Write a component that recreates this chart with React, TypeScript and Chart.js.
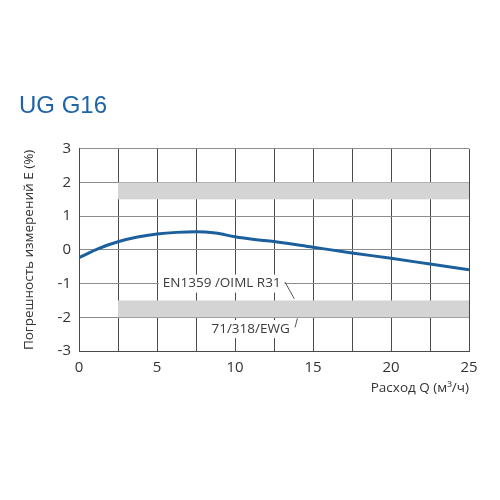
import { useEffect, useRef } from "react";
import { Chart, registerables } from "chart.js";

Chart.register(...registerables);

// Flow rate Q (m³/h) and measuring error E (%)
const flowQ = [0, 1.25, 2.5, 3.75, 5, 6.25, 7.5, 8.75, 10, 11.25, 12.5, 15, 17.5, 20, 22.5, 25];
const errorE = [-0.23, 0.04, 0.24, 0.38, 0.47, 0.52, 0.54, 0.5, 0.39, 0.31, 0.25, 0.08, -0.09, -0.25, -0.42, -0.59];

// Permitted error limits (grey bands), starting at Q = 2.5
const bandStartQ = 2.5;
const bandLow = [1.5, -2];
const bandHigh = [2, -1.5];

// Standard notes and their leader lines (data coordinates)
const noteTexts = ["EN1359 /OIML R31", "71/318/EWG"];
const noteQ = [9.15, 11.0];
const noteE = [-1, -2.35];
const leaderFrom = [[13.2, -0.95], [13.85, -2.3]];
const leaderTo = [[13.8, -1.45], [14.0, -2.03]];

const bandsPlugin = {
  id: "bands",
  beforeDatasetsDraw(chart: Chart) {
    const { ctx, chartArea, scales } = chart;
    const x = scales.x;
    const y = scales.y;
    ctx.save();
    ctx.fillStyle = "#d4d4d4";
    bandLow.forEach((lo, i) => {
      const left = x.getPixelForValue(bandStartQ);
      const top = y.getPixelForValue(bandHigh[i]);
      const bottom = y.getPixelForValue(lo);
      ctx.fillRect(left, top, chartArea.right - left, bottom - top);
    });

    ctx.font = "13.5px 'Open Sans'";
    ctx.textAlign = "center";
    ctx.textBaseline = "middle";
    noteTexts.forEach((t, i) => {
      const cx = x.getPixelForValue(noteQ[i]);
      const cy = y.getPixelForValue(noteE[i]);
      const w = ctx.measureText(t).width;
      ctx.fillStyle = "#ffffff";
      ctx.fillRect(cx - w / 2 - 4, cy - 9, w + 8, 18);
      ctx.fillStyle = "#3a3a3a";
      ctx.fillText(t, cx, cy);
    });

    ctx.strokeStyle = "#555";
    ctx.lineWidth = 1;
    leaderFrom.forEach((p, i) => {
      ctx.beginPath();
      ctx.moveTo(x.getPixelForValue(p[0]), y.getPixelForValue(p[1]));
      ctx.lineTo(x.getPixelForValue(leaderTo[i][0]), y.getPixelForValue(leaderTo[i][1]));
      ctx.stroke();
    });
    ctx.restore();
  },
};

export default function App() {
  const chartRef = useRef<HTMLCanvasElement>(null);
  const chartInstance = useRef<Chart | null>(null);

  useEffect(() => {
    if (!chartRef.current) return;
    if (chartInstance.current) chartInstance.current.destroy();

    chartInstance.current = new Chart(chartRef.current, {
      type: "line",
      data: {
        datasets: [
          {
            data: flowQ.map((q, i) => ({ x: q, y: errorE[i] })),
            borderColor: "#1b5f9d",
            borderWidth: 3,
            pointRadius: 0,
            cubicInterpolationMode: "monotone",
            fill: false,
          },
        ],
      },
      options: {
        animation: false,
        responsive: true,
        maintainAspectRatio: false,
        layout: { padding: { left: 19, right: 31, top: 0, bottom: 104 } },
        plugins: {
          legend: { display: false },
          tooltip: { enabled: false },
          title: {
            display: true,
            text: "UG G16",
            align: "start",
            color: "#1f64a6",
            font: { family: "'Liberation Sans'", size: 24, weight: "normal" },
            padding: { top: 92, bottom: 28 },
          },
        },
        scales: {
          x: {
            type: "linear",
            min: 0,
            max: 25,
            afterFit: (scale: any) => {
              scale.height = 45;
            },
            ticks: {
              stepSize: 2.5,
              padding: 8,
              color: "#333",
              font: { family: "'Open Sans'", size: 15 },
              maxRotation: 0,
              autoSkip: false,
              callback: (v: any) => (Number(v) % 5 === 0 ? String(v) : ""),
            },
            grid: { color: "#4a4a4a", drawTicks: false },
            border: { color: "#4a4a4a" },
            title: {
              display: true,
              text: "Расход Q (м³/ч)",
              align: "end",
              color: "#333",
              font: { family: "'Open Sans'", size: 13.5 },
              padding: { top: 0, bottom: 0 },
            },
          },
          y: {
            min: -3,
            max: 3,
            afterFit: (scale: any) => {
              scale.width = 60;
            },
            ticks: {
              stepSize: 1,
              padding: 8,
              color: "#333",
              font: { family: "'Open Sans'", size: 15 },
            },
            grid: { color: "#8c8c8c", drawTicks: false },
            border: { color: "#4a4a4a" },
            title: {
              display: true,
              text: "Погрешность измерений E (%)",
              color: "#333",
              font: { family: "'Open Sans'", size: 13.5 },
              padding: { top: 2, bottom: 0 },
            },
          },
        },
      },
      plugins: [bandsPlugin],
    });

    return () => {
      if (chartInstance.current) {
        chartInstance.current.destroy();
        chartInstance.current = null;
      }
    };
  }, []);

  return (
    <div style={{ position: "fixed", left: 0, top: 0, width: 500, height: 500, background: "#fff" }}>
      <canvas ref={chartRef} />
    </div>
  );
}
